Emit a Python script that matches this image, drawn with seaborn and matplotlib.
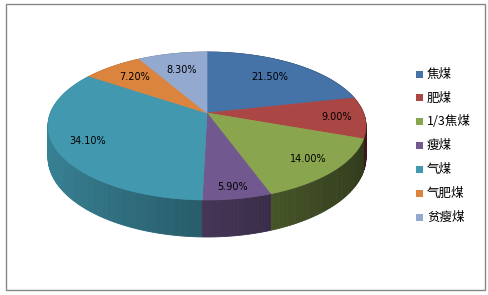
import numpy as np
import matplotlib
matplotlib.use("Agg")
import matplotlib.pyplot as plt
from matplotlib.patches import Rectangle, Polygon
import seaborn as sns

categories = ["焦煤", "肥煤", "1/3焦煤", "瘦煤", "气煤", "气肥煤", "贫瘦煤"]
values = [21.5, 9.0, 14.0, 5.9, 34.1, 7.2, 8.3]
value_labels = ["21.50%", "9.00%", "14.00%", "5.90%", "34.10%", "7.20%", "8.30%"]

colors = ["#4572a7", "#aa4643", "#89a54e", "#71588f", "#4198af", "#db843d", "#93a9cf"]
label_radius = [0.70, 0.82, 0.82, 0.88, 0.80, 0.75, 0.70]

sns.set_theme(style="white")
plt.rcParams["font.family"] = ["Noto Sans CJK SC", "DejaVu Sans"]
palette = sns.color_palette(colors)

W, H = 488, 295
fig = plt.figure(figsize=(W / 100, H / 100), dpi=100)
ax = fig.add_axes([0, 0, 1, 1])
ax.set_xlim(0, W)
ax.set_ylim(H, 0)
ax.axis("off")

# perspective model of the tilted disc
cx, cy = 207.0, 113.0
A, B, k = 156.5, 71.7, 0.1757
d0 = 30.5


def proj(theta, r=1.0):
    u = r * np.sin(theta)
    v = r * np.cos(theta)
    s = 1.0 + k * v
    return cx + A * u / s, cy - B * v / s


def depth(theta):
    return d0 / (1.0 + k * np.cos(theta))


total = float(sum(values))
bounds = np.concatenate([[0.0], np.cumsum(values)]) / total * 2 * np.pi

# side walls
quads = []
for i in range(len(values)):
    a, b = bounds[i], bounds[i + 1]
    n = max(2, int(np.degrees(b - a) / 1.0) + 1)
    ts = np.linspace(a, b, n + 1)
    base = np.array(palette[i])
    for t0, t1 in zip(ts[:-1], ts[1:]):
        tm = 0.5 * (t0 + t1)
        f = 0.6 - 0.26 * np.sin(tm)
        col = np.clip(base * f, 0, 1)
        x0, y0 = proj(t0)
        x1, y1 = proj(t1)
        pts = [(x0, y0), (x1, y1), (x1, y1 + depth(t1)), (x0, y0 + depth(t0))]
        quads.append((np.cos(tm), pts, col))
quads.sort(key=lambda q: -q[0])
for _, pts, col in quads:
    ax.add_patch(Polygon(pts, closed=True, facecolor=col, edgecolor=col,
                         linewidth=0.6, zorder=1))

# top faces
for i in range(len(values)):
    a, b = bounds[i], bounds[i + 1]
    ts = np.linspace(a, b, 120)
    xs, ys = proj(ts)
    pts = [(cx, cy)] + list(zip(xs, ys))
    ax.add_patch(Polygon(pts, closed=True, facecolor=palette[i],
                         edgecolor=palette[i], linewidth=0.5, zorder=2))

# value labels
for i, lab in enumerate(value_labels):
    tm = 0.5 * (bounds[i] + bounds[i + 1])
    x, y = proj(tm, label_radius[i])
    ax.text(x, y, lab, ha="center", va="center", fontsize=7.0,
            family=["DejaVu Sans"], color="#000000", zorder=3)

# legend
ly0, lstep = 74.0, 23.9
for i, cat in enumerate(categories):
    y = ly0 + i * lstep
    ax.add_patch(Rectangle((416, y - 3.5), 7, 7, facecolor=palette[i],
                           edgecolor="none", zorder=3))
    ax.text(427, y, cat, ha="left", va="center", fontsize=9.0,
            family=["Noto Sans CJK SC", "DejaVu Sans"], color="#000000", zorder=3)

# chart border
ax.add_patch(Rectangle((5.5, 3.5), 479, 286, facecolor="none",
                       edgecolor="#878787", linewidth=1.0, zorder=4))

fig.savefig("out.png", dpi=100)
